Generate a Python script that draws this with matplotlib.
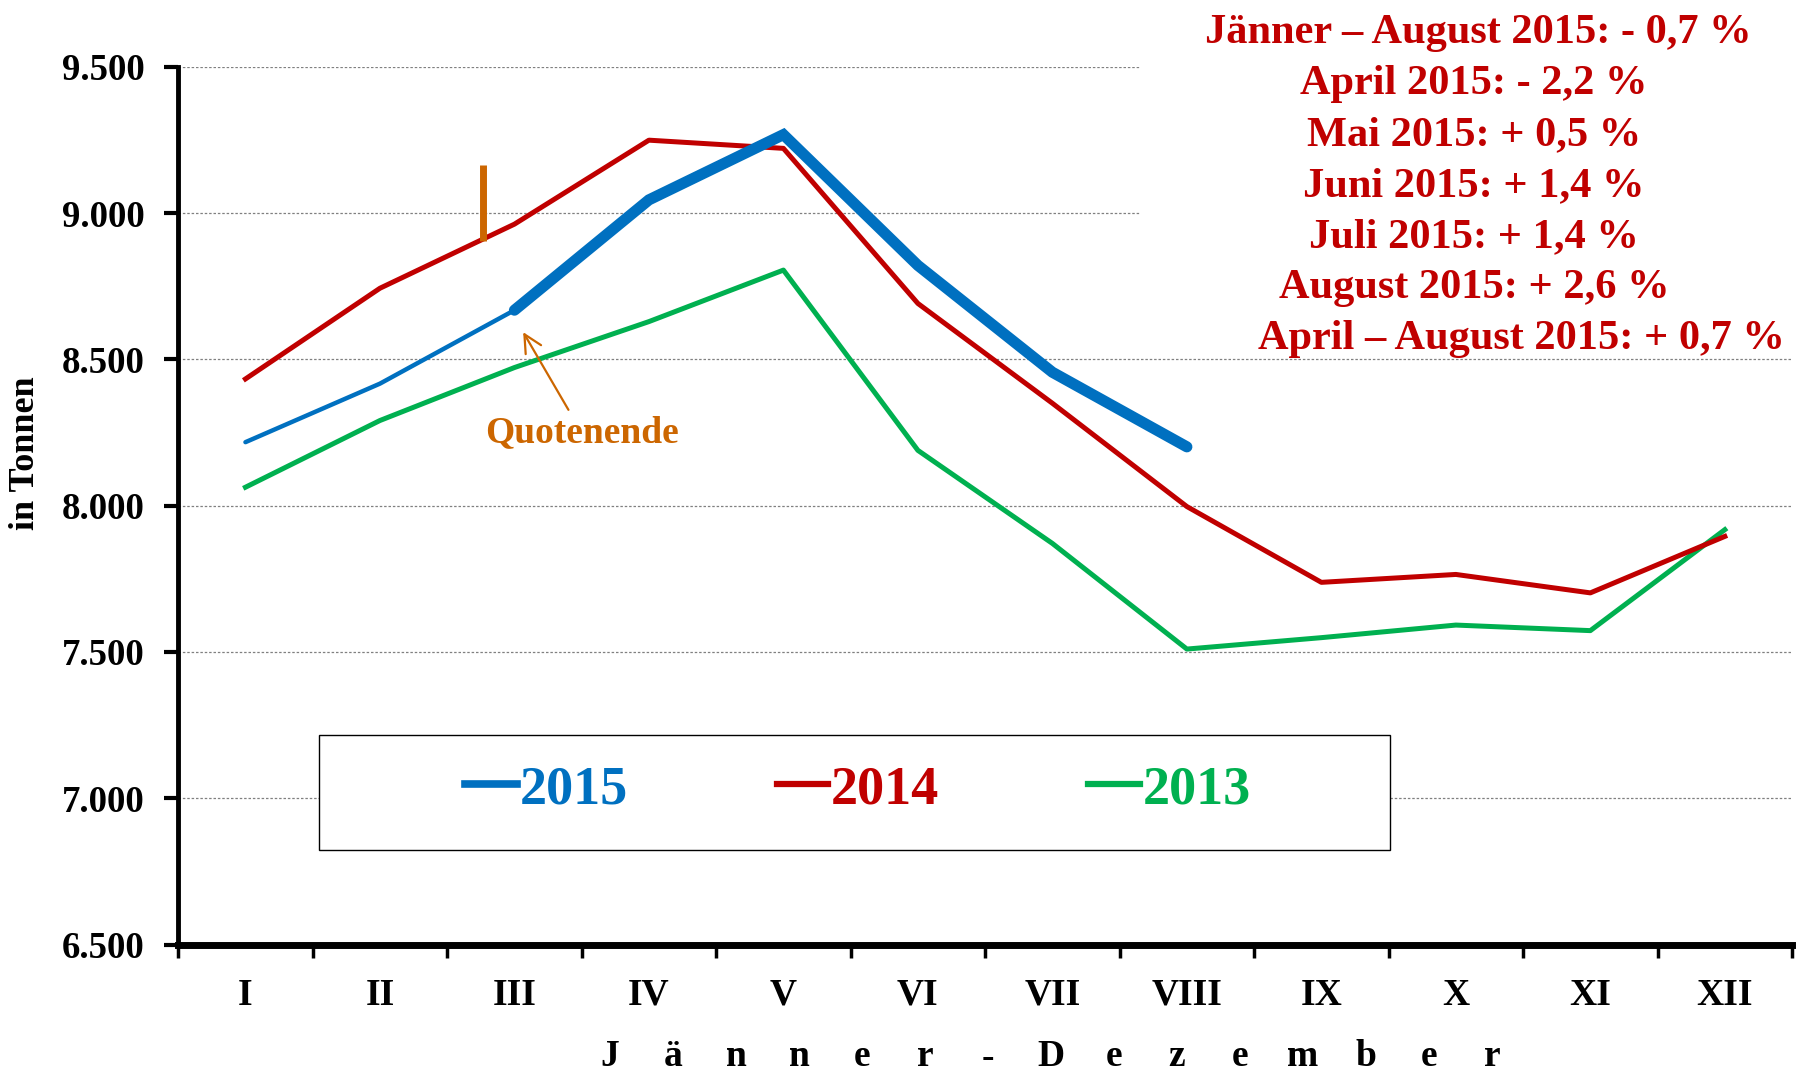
'''Milchanlieferung Jänner - Dezember 2013-2015'''
import matplotlib
matplotlib.use('Agg')
import matplotlib.pyplot as plt
from matplotlib.patches import Rectangle

plt.rcParams['font.family'] = ['Liberation Serif', 'DejaVu Serif']
plt.rcParams['font.weight'] = 'bold'

months = ['I', 'II', 'III', 'IV', 'V', 'VI', 'VII', 'VIII', 'IX', 'X', 'XI', 'XII']
values_2015 = [8217, 8417, 8668, 9045, 9268, 8821, 8456, 8201]
values_2014 = [8433, 8743, 8962, 9249, 9221, 8691, 8350, 7997, 7738, 7765, 7702, 7895]
values_2013 = [8063, 8291, 8472, 8629, 8805, 8189, 7871, 7510, 7549, 7592, 7573, 7918]
y_ticks = [6500, 7000, 7500, 8000, 8500, 9000, 9500]
notes = ['Jänner – August 2015: - 0,7 %',
         'April 2015: - 2,2 %',
         'Mai 2015: + 0,5 %',
         'Juni 2015: + 1,4 %',
         'Juli 2015: + 1,4 %',
         'August 2015: + 2,6 %',
         'April – August 2015: + 0,7 %']
quota_x = 1.77
quota_bar = [8905, 9165]
quota_tip = (2.065, 8593)
quota_text = (2.5, 8250)

BLUE = '#0070C0'
RED = '#C00000'
GREEN = '#00B050'
ORANGE = '#CC6600'

fig = plt.figure(figsize=(18, 10.71), dpi=100)
ax = fig.add_axes([0.099, 0.118, 0.8966, 0.8197])

x = list(range(len(months)))
ax.plot(x[:len(values_2013)], values_2013, color=GREEN, lw=3.6, label='2013')
ax.plot(x[:len(values_2014)], values_2014, color=RED, lw=3.6, label='2014')
ax.plot(x[:3], values_2015[:3], color=BLUE, lw=3.2, solid_capstyle='round')
ax.plot(x[2:len(values_2015)], values_2015[2:], color=BLUE, lw=8,
        solid_capstyle='round', solid_joinstyle='miter')

# Quotenende marker
ax.plot([quota_x, quota_x], quota_bar, color=ORANGE, lw=5, solid_capstyle='butt')
ax.annotate('Quotenende', xy=quota_tip, xytext=quota_text, color=ORANGE,
            fontsize=27, fontweight='bold', ha='center', va='center',
            arrowprops=dict(arrowstyle='->', color=ORANGE, lw=1.6,
                            mutation_scale=32, shrinkA=2, shrinkB=0))

ax.set_xlim(-0.5, 11.5)
ax.set_ylim(6500, 9500)
ax.set_yticks(y_ticks)
ax.set_yticklabels([f'{v:,}'.replace(',', '.') for v in y_ticks])
ax.set_xticks(x)
ax.set_xticklabels(months)
ax.set_xticks([i - 0.5 for i in range(len(months) + 1)], minor=True)
ax.tick_params(axis='x', which='major', length=0, pad=24, labelsize=27)
ax.tick_params(axis='x', which='minor', length=9, width=2.5, direction='out')
ax.tick_params(axis='y', length=10, width=3, pad=14, labelsize=26.5)

ax.grid(axis='y', color='#808080', lw=0.9, ls=(0, (2, 1.5)))
ax.set_axisbelow(True)
for side in ['top', 'right']:
    ax.spines[side].set_visible(False)
ax.spines['left'].set_linewidth(3.5)
ax.spines['bottom'].set_linewidth(5)

fig.text(0.014, 0.577, 'in Tonnen', rotation=90, ha='center', va='center',
         fontsize=26, fontweight='bold')

# spaced x axis title
title_letters = 'Jänner-Dezember'
for i, ch in enumerate(title_letters):
    fig.text((610 + i * 63) / 1800, 1 - 1057 / 1071, ch, ha='center',
             va='center', fontsize=27, fontweight='bold')

# white backing for the notes block
ax.add_patch(Rectangle((1140 / 1800, 1 - 345 / 1071), 1 - 1140 / 1800, 345 / 1071,
                       transform=fig.transFigure, facecolor='white',
                       edgecolor='none', zorder=1, clip_on=False))
for i, note in enumerate(notes):
    xpos = 1474
    if i == 0:
        xpos = 1478
    if i == len(notes) - 1:
        xpos = 1521
    fig.text(xpos / 1800, 1 - (43 + i * 51) / 1071, note, ha='center',
             va='baseline', color=RED, fontsize=30.5, fontweight='bold')

# legend box
ax.add_patch(Rectangle((319 / 1800, 1 - 850 / 1071), 1071 / 1800, 115 / 1071,
                       transform=fig.transFigure, facecolor='white',
                       edgecolor='black', lw=1, zorder=3, clip_on=False))
handles = [plt.Line2D([], [], color=BLUE, lw=5.5),
           plt.Line2D([], [], color=RED, lw=4.5),
           plt.Line2D([], [], color=GREEN, lw=4.5)]
leg = fig.legend(handles, ['2015', '2014', '2013'], loc='center',
                 bbox_to_anchor=(858 / 1800, 1 - 790 / 1071), ncol=3,
                 frameon=False, handlelength=0.95,
                 handletextpad=0.05, columnspacing=2.75,
                 prop={'weight': 'bold', 'size': 39})
for txt, col in zip(leg.get_texts(), [BLUE, RED, GREEN]):
    txt.set_color(col)
leg.set_zorder(5)

fig.savefig('out.png', dpi=100)
